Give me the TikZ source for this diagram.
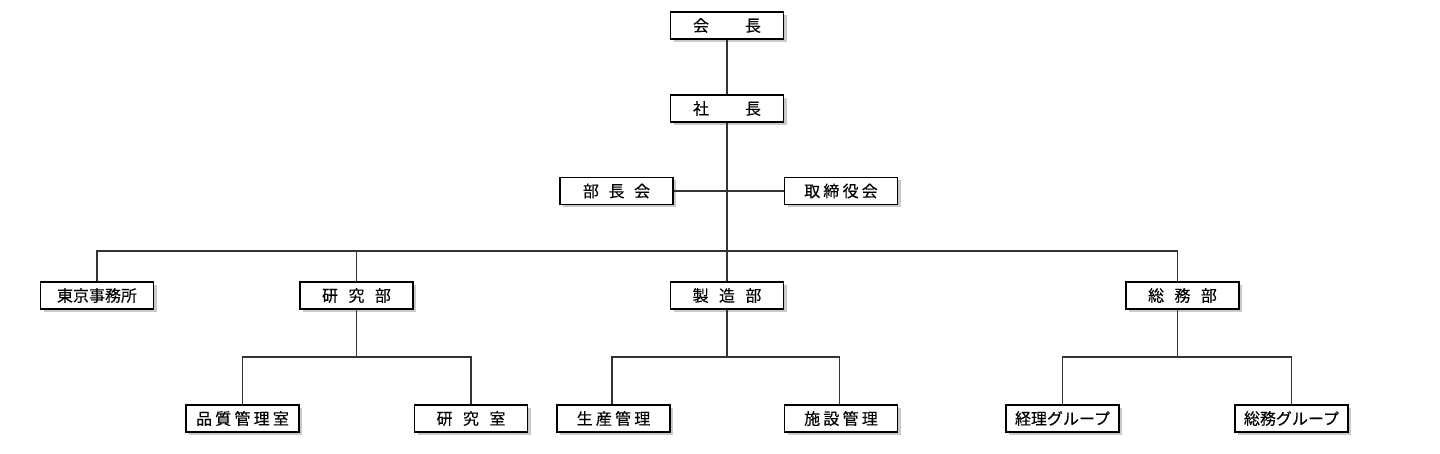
\documentclass[tikz,border=0pt]{standalone}
\usepackage{fontspec}
\setmainfont{Noto Sans CJK JP}[FakeBold=0.15]
\usetikzlibrary{shadows}

\begin{document}
\begin{tikzpicture}[x=1pt,y=-1pt,
    post/.style={draw=black,line width=1.1pt,fill=white,minimum width=113pt,minimum height=27pt,
      inner sep=0pt,font=\fontsize{16}{18}\selectfont,
      drop shadow={shadow xshift=3pt,shadow yshift=-3pt,opacity=0.35,fill=black!60}},
    tie/.style={draw=black!80,line width=1.2pt}]
  \useasboundingbox (0,0) rectangle (1440,454);

  % top
  \node[post] (kaicho) at (727,25.5) {会\hspace{2.25em}長};
  \node[post] (shacho) at (727,108.5) {社\hspace{2.25em}長};
  \node[post] (buchokai) at (616.5,191) {部\hspace{0.6em}長\hspace{0.6em}会};
  \node[post] (torishimari) at (841,191) {取\hspace{0.2em}締\hspace{0.2em}役\hspace{0.2em}会};

  % departments
  \node[post] (tokyo) at (97,295.5) {東京事務所};
  \node[post] (kenkyu) at (356.5,295.5) {研\hspace{0.65em}究\hspace{0.65em}部};
  \node[post] (seizo) at (727,295.5) {製\hspace{0.65em}造\hspace{0.65em}部};
  \node[post] (somu) at (1182.5,295.5) {総\hspace{0.65em}務\hspace{0.65em}部};

  % sections
  \node[post] (hinshitsu) at (242.5,418.5) {品\hspace{0.2em}質\hspace{0.2em}管\hspace{0.2em}理\hspace{0.2em}室};
  \node[post] (kenkyushitsu) at (471,418.5) {研\hspace{0.65em}究\hspace{0.65em}室};
  \node[post] (seisan) at (613.5,418.5) {生\hspace{0.2em}産\hspace{0.2em}管\hspace{0.2em}理};
  \node[post] (shisetsu) at (841,418.5) {施\hspace{0.2em}設\hspace{0.2em}管\hspace{0.2em}理};
  \node[post] (keiri) at (1062.5,418.5) {経理グループ};
  \node[post] (somugroup) at (1291.5,418.5) {総務グループ};

  \coordinate (bus) at (727,251);
  \coordinate (kbus) at (356.5,357);
  \coordinate (sbus) at (727,357);
  \coordinate (gbus) at (1177.5,357);

  % connectors
  \draw[tie] (kaicho.south) -- (shacho.north);
  \draw[tie] (shacho.south) -- (seizo.north);
  \draw[tie] (buchokai.east) -- (torishimari.west);
  \draw[tie] (tokyo.north) |- (bus) -| ([xshift=-5pt]somu.north);
  \draw[tie] (kenkyu.north) -- (kenkyu.north |- bus);

  \draw[tie] (kenkyu.south) -- (kbus);
  \draw[tie] (hinshitsu.north) |- (kbus) -| (kenkyushitsu.north);
  \draw[tie] (seizo.south) -- (sbus);
  \draw[tie] ([xshift=-1.5pt]seisan.north) |- (sbus) -| ([xshift=-1.3pt]shisetsu.north);
  \draw[tie] ([xshift=-5pt]somu.south) -- (gbus);
  \draw[tie] (keiri.north) |- (gbus) -| (somugroup.north);
\end{tikzpicture}
\end{document}
